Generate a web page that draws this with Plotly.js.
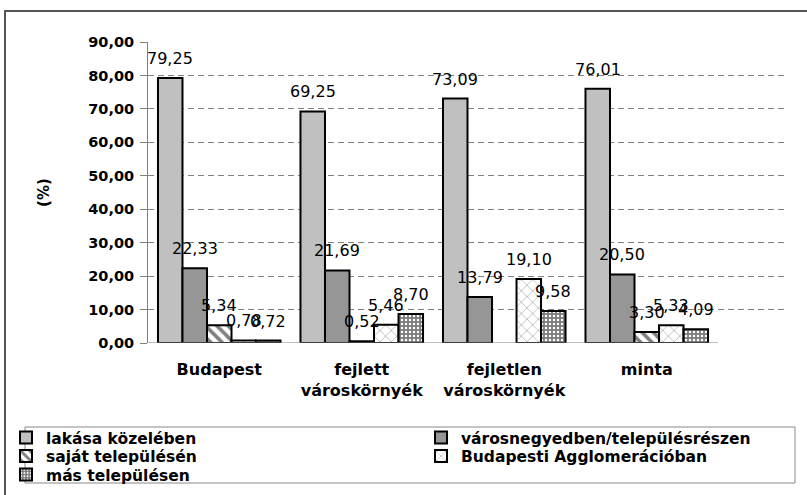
<!DOCTYPE html>
<html>
<head>
<meta charset="utf-8">
<script src="https://cdn.plot.ly/plotly-3.0.1.min.js"></script>
<style>html,body{margin:0;padding:0;background:#fff;}#chart{width:807px;height:495px;}</style>
</head>
<body>
<div id="chart"></div>
<script>
const categories = ['Budapest', 'fejlett<br>városkörnyék', 'fejletlen<br>városkörnyék', 'minta'];
const seriesNames = ['lakása közelében', 'városnegyedben/településrészen', 'saját településén', 'Budapesti Agglomerációban', 'más településen'];
const lakasa = [79.25, 69.25, 73.09, 76.01];
const varosnegyed = [22.33, 21.69, 13.79, 20.50];
const sajat = [5.34, 0.52, null, 3.30];
const agglo = [0.78, 5.46, 19.10, 5.33];
const mas = [0.72, 8.70, 9.58, 4.09];
const yTicks = [0, 10, 20, 30, 40, 50, 60, 70, 80, 90];

const FONT = 'DejaVu Sans, Verdana, sans-serif';
const fmt = v => (v === null ? '' : v.toFixed(2).replace('.', ','));

const styles = [
  {color: '#c0c0c0'},
  {color: '#969696'},
  {color: '#ffffff', pattern: {shape: '\\', fgcolor: '#808080', bgcolor: '#ffffff', size: 8, solidity: 0.45}},
  {color: '#ffffff', pattern: {shape: 'x', fgcolor: '#a0a0a0', bgcolor: '#ffffff', size: 8, solidity: 0.15}},
  {color: '#808080', pattern: {shape: '.', fgcolor: '#ffffff', bgcolor: '#7a7a7a', size: 4, solidity: 0.3}}
];
const allSeries = [lakasa, varosnegyed, sajat, agglo, mas];
const legendIds = ['legend', 'legend2', 'legend3', 'legend4', 'legend5'];
const labelFont = {family: FONT, size: 16, color: '#000'};

const traces = allSeries.map((vals, i) => ({
  type: 'bar',
  name: seriesNames[i],
  legend: legendIds[i],
  x: categories,
  y: vals,
  text: vals.map(fmt),
  textposition: 'outside',
  constraintext: 'none',
  cliponaxis: false,
  textfont: labelFont,
  marker: Object.assign({line: {color: '#000', width: 2}}, styles[i]),
  hoverinfo: 'none'
}));

// plot area pixel geometry
const L = 148, R = 22, T = 42, B = 152, W = 807, H = 495;
const pw = W - L - R, ph = H - T - B;
const px = x => (x - L) / pw;
const py = y => (H - B - y) / ph;

const shapes = [
  {type: 'rect', xref: 'paper', yref: 'paper', x0: px(5), x1: px(812), y0: py(11), y1: py(505),
   line: {color: '#555', width: 2}, layer: 'below'},
  {type: 'rect', xref: 'paper', yref: 'paper', x0: px(25), x1: px(795), y0: py(427), y1: py(483),
   line: {color: '#888', width: 1}},
  {type: 'line', xref: 'x', yref: 'y', x0: -0.5, x1: 3.5, y0: 0, y1: 0, line: {color: '#808080', width: 1}}
];
[-0.5, 0.5, 1.5, 2.5, 3.5].forEach(t => shapes.push({
  type: 'line', xref: 'x', yref: 'y', ysizemode: 'pixel', yanchor: 0,
  x0: t, x1: t, y0: 0, y1: -6, line: {color: '#808080', width: 1}
}));

const legendFont = {family: FONT, size: 15.5, weight: 'bold', color: '#000'};
// legend entry positions (pixels): [left, top]
const legendPos = [[6, 421], [421, 421], [6, 439.5], [421, 439.5], [6, 458]];

const layout = {
  width: W, height: H,
  margin: {l: L, r: R, t: T, b: B, pad: 0, autoexpand: false},
  paper_bgcolor: '#fff', plot_bgcolor: '#fff',
  font: {family: FONT, size: 16, color: '#000'},
  barmode: 'group',
  bargap: 0.14,
  bargroupgap: 0,
  showlegend: true,
  xaxis: {
    type: 'category', range: [-0.5, 3.97], autorange: false,
    showline: false, showgrid: false, zeroline: false, ticks: '',
    ticklabelstandoff: 15,
    tickfont: {family: FONT, size: 16, weight: 'bold', color: '#000'}
  },
  yaxis: {
    range: [0, 90], autorange: false,
    tickmode: 'array', tickvals: yTicks, ticktext: yTicks.map(fmt),
    showline: true, linecolor: '#808080', linewidth: 1,
    ticks: 'outside', ticklen: 7, tickcolor: '#808080',
    showgrid: true, gridcolor: '#808080', gridwidth: 1, griddash: '6px,4px',
    zeroline: false,
    tickfont: {family: FONT, size: 14.5, weight: 'bold', color: '#000'},
    ticklabelstandoff: 3,
    title: {text: '(%)', font: {family: FONT, size: 15, weight: 'bold', color: '#000'}, standoff: 34}
  },
  shapes: shapes
};
legendIds.forEach((id, i) => {
  layout[id] = {
    orientation: 'v', x: px(legendPos[i][0]), y: py(legendPos[i][1]),
    xanchor: 'left', yanchor: 'top', font: legendFont,
    bgcolor: 'rgba(0,0,0,0)', borderwidth: 0, itemclick: false
  };
});

const gd = document.getElementById('chart');
Plotly.newPlot(gd, traces, layout, {staticPlot: true, displayModeBar: false}).then(() => {
  // place value labels a little higher above each bar, at the bar centres computed by Plotly
  try {
    const anns = [];
    gd.calcdata.forEach((cdTrace, i) => {
      cdTrace.forEach((pt, j) => {
        const v = allSeries[i][j];
        if (v === null || v === undefined || typeof pt.x !== 'number') return;
        anns.push({
          xref: 'x', yref: 'y', x: pt.x, y: v, text: fmt(v),
          showarrow: false, xanchor: 'center', yanchor: 'bottom', yshift: 8,
          font: labelFont
        });
      });
    });
    if (anns.length) {
      return Plotly.update(gd, {textposition: 'none'}, {annotations: anns});
    }
  } catch (e) { /* keep bar texts */ }
});
</script>
</body>
</html>
